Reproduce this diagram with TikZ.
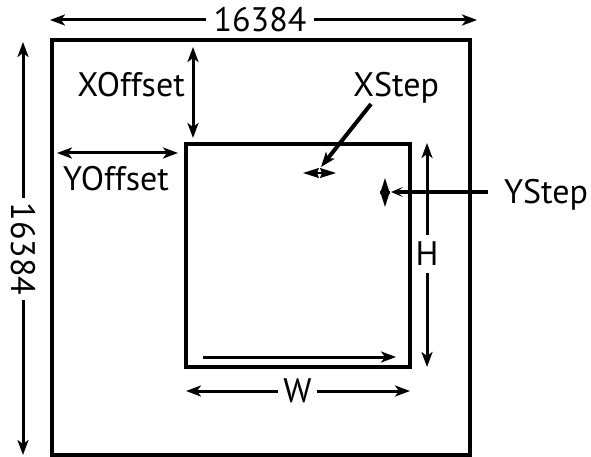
\documentclass[tikz,border=0pt]{standalone}
\usepackage{fontspec}
\setmainfont{PT Sans}
\usetikzlibrary{arrows.meta}
\begin{document}
\begin{tikzpicture}[x=1pt,y=-1pt,
  lbl/.style={font=\fontsize{34}{40}\selectfont, inner sep=0pt},
  tipa/.tip={Stealth[length=15pt,width=11pt,inset=4pt]},
  tips/.tip={Stealth[length=16pt,width=10pt,inset=2pt]},
  tipb/.tip={Stealth[length=12pt,width=10pt,inset=6pt]},
  dim/.style={line width=3pt, -tipa},
  dbl/.style={line width=3pt, tipa-tipa},
  tiny/.style={line width=1.5pt, tips-tips},
  lead/.style={line width=4pt, -tipa},
  leadb/.style={line width=3.5pt, -tipb},
  frame/.style={line width=3.5pt}
]
\useasboundingbox (0,0) rectangle (591,457);
% frames
\draw[frame] (52,40) rectangle (470,455);
\draw[frame] (186,144) rectangle (410,367);
% top dimension
\node[lbl, inner xsep=7.5pt] (top) at (260,20) {16384};
\coordinate (tl) at (50,20);
\coordinate (tr) at (477,20);
\draw[dim] (top.west) -- (tl);
\draw[dim] (top.east) -- (tr);
% left dimension
\node[lbl, rotate=-90, inner xsep=4pt] (left) at (23,249) {16384};
\coordinate (lt) at (23,42);
\coordinate (lb) at (23,455);
\draw[dim] (left.west) -- (lt);
\draw[dim] (left.east) -- (lb);
% XOffset
\node[lbl, anchor=base east] (xoff) at (185,97) {XOffset};
\coordinate (xo1) at (193,47);
\coordinate (xo2) at (193,138);
\draw[dbl] (xo1) -- (xo2);
% YOffset
\node[lbl, anchor=base west] (yoff) at (63,190) {YOffset};
\coordinate (yo1) at (57,153);
\coordinate (yo2) at (178,153);
\draw[dbl] (yo1) -- (yo2);
% XStep
\node[lbl, anchor=base] (xstep) at (396,97) {XStep};
\coordinate (xsl) at (371,104);
\coordinate (xstip) at (321,167);
\coordinate (xs1) at (303,173);
\coordinate (xs2) at (336,173);
\draw[tiny] (xs1) -- (xs2);
\draw[lead] (xsl) -- (xstip);
% YStep
\node[lbl, anchor=base west] (ystep) at (504,203) {YStep};
\coordinate (ysl) at (488,192);
\coordinate (ystip) at (391,192);
\coordinate (ys1) at (385,178);
\coordinate (ys2) at (385,207);
\draw[tiny] (ys1) -- (ys2);
\draw[leadb] (ysl) -- (ystip);
% H
\node[lbl, inner ysep=7pt] (h) at (427,254) {H};
\coordinate (ht) at (427,143);
\coordinate (hb) at (427,367);
\draw[dim] (h.north) -- (ht);
\draw[dim] (h.south) -- (hb);
% inner arrow
\coordinate (ia) at (203,357);
\coordinate (ib) at (396,357);
\draw[dim] (ia) -- (ib);
% W
\node[lbl, inner xsep=5pt] (w) at (297.5,391) {W};
\coordinate (wl) at (186,391);
\coordinate (wr) at (410,391);
\draw[dim] (w.west) -- (wl);
\draw[dim] (w.east) -- (wr);
\end{tikzpicture}
\end{document}
